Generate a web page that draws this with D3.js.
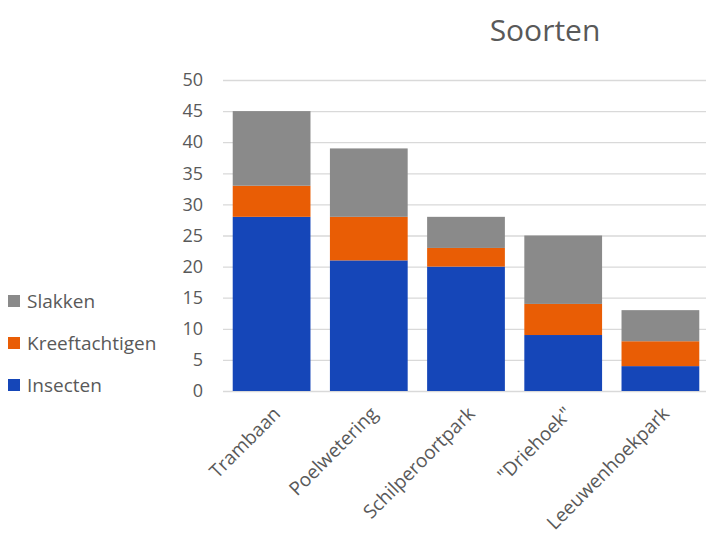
<!DOCTYPE html>
<html>
<head>
<meta charset="utf-8">
<script src="https://cdn.jsdelivr.net/npm/d3@7"></script>
<style>
  body { margin: 0; background: #fff; }
  svg { font-family: "Open Sans", "Noto Sans", sans-serif; }
  .tick text { fill: #595959; font-family: "Open Sans", "Noto Sans", sans-serif; }
  .y-axis .tick text { font-size: 18px; }
  .x-axis .tick text { font-size: 19px; }
</style>
</head>
<body>
<div id="chart"></div>
<script>
// chart data
const locations = ["Trambaan", "Poelwetering", "Schilperoortpark", "\"Driehoek\"", "Leeuwenhoekpark"];
const seriesNames = ["Insecten", "Kreeftachtigen", "Slakken"];
const insecten = [28, 21, 20, 9, 4];
const kreeftachtigen = [5, 7, 3, 5, 4];
const slakken = [12, 11, 5, 11, 5];
const yTicks = [0, 5, 10, 15, 20, 25, 30, 35, 40, 45, 50];

const colors = {"Insecten": "#1546b8", "Kreeftachtigen": "#e95d05", "Slakken": "#8a8a8a"};

let width = 706, height = 534;
let margin = {top: 80, right: 0, bottom: 143, left: 223};

let svg = d3.select("#chart").append("svg")
    .attr("width", width)
    .attr("height", height);

// table for the stack
let rows = locations.map((loc, i) => ({
    loc: loc,
    "Insecten": insecten[i],
    "Kreeftachtigen": kreeftachtigen[i],
    "Slakken": slakken[i]
}));
let stacked = d3.stack().keys(seriesNames)(rows);

let x = d3.scaleBand()
    .domain(locations)
    .range([margin.left, 709])
    .paddingInner(0.2)
    .paddingOuter(0.1);

let y = d3.scaleLinear()
    .domain([0, 50])
    .range([height - margin.bottom, margin.top]);

// gridlines
svg.append("g")
    .selectAll("line")
    .data(yTicks)
    .enter().append("line")
    .attr("x1", margin.left)
    .attr("x2", width)
    .attr("y1", d => y(d) + 0.5)
    .attr("y2", d => y(d) + 0.5)
    .attr("stroke", "#d9d9d9")
    .attr("stroke-width", 1.3);

// y axis labels
let yAxis = svg.append("g")
    .attr("class", "y-axis")
    .attr("transform", "translate(" + (margin.left - 20) + ",0)")
    .call(d3.axisLeft(y).tickValues(yTicks).tickSize(0).tickPadding(0));
yAxis.select(".domain").remove();

// bars
svg.append("g")
    .selectAll("g")
    .data(stacked)
    .enter().append("g")
    .attr("fill", d => colors[d.key])
    .selectAll("rect")
    .data(d => d)
    .enter().append("rect")
    .attr("x", d => x(d.data.loc))
    .attr("width", x.bandwidth())
    .attr("y", d => y(d[1]))
    .attr("height", d => y(d[0]) - y(d[1]));

// x axis labels, rotated
let xAxis = svg.append("g")
    .attr("class", "x-axis")
    .attr("transform", "translate(0," + (height - margin.bottom) + ")")
    .call(d3.axisBottom(x).tickSize(0).tickPadding(0));
xAxis.select(".domain").remove();
xAxis.selectAll("text")
    .attr("text-anchor", "end")
    .attr("dy", 0)
    .attr("transform", "translate(10,24) rotate(-45)");

// title
svg.append("text")
    .attr("x", 545)
    .attr("y", 41)
    .attr("text-anchor", "middle")
    .attr("fill", "#595959")
    .attr("font-size", 30)
    .text("Soorten");

// legend (reverse order, Slakken on top)
let legend = svg.append("g")
    .selectAll("g")
    .data(seriesNames.slice().reverse())
    .enter().append("g")
    .attr("transform", (d, i) => "translate(8," + (301 + i * 42) + ")");
legend.append("rect")
    .attr("y", -6)
    .attr("width", 12)
    .attr("height", 12)
    .attr("fill", d => colors[d]);
legend.append("text")
    .attr("x", 19)
    .attr("dy", "0.35em")
    .attr("fill", "#595959")
    .attr("font-size", 19)
    .text(d => d);
</script>
</body>
</html>
